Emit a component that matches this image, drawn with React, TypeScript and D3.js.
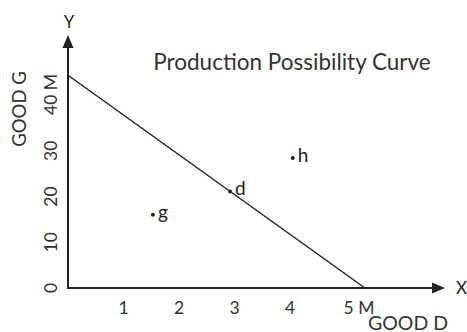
import React from "react";
import * as d3 from "d3";

const W = 467;
const H = 332;

const xTicks = [1, 2, 3, 4, 5];
const xTickLabels = ["1", "2", "3", "4", "5 M"];
const yTicks = [0, 10, 20, 30, 40];
const yTickLabels = ["0", "10", "20", "30", "40 M"];

const ppcX = [0, 5.35];
const ppcY = [46.5, 0];

const pointNames = ["g", "d", "h"];
const pointX = [1.53, 2.92, 4.05];
const pointY = [16, 21.1, 28.4];

const title = "Production Possibility Curve";
const xAxisName = "GOOD D";
const yAxisName = "GOOD G";

export default function App() {
  const x = d3.scaleLinear().domain([0, 5]).range([68, 345.5]);
  const y = d3.scaleLinear().domain([0, 40]).range([288, 105]);
  const line = d3
    .line<number>()
    .x((_, i) => x(ppcX[i]))
    .y((_, i) => y(ppcY[i]));
  const font = "Lato, 'Open Sans', sans-serif";
  const ink = "#222";
  const x0 = x(0);
  const y0 = y(0);
  const tickSize = 17.5;
  return (
    <svg
      width={W}
      height={H}
      style={{ position: "absolute", left: 0, top: 0, background: "#fff" }}
      fontFamily={font}
    >
      <rect width={W} height={H} fill="#fff" />
      {/* axes */}
      <line x1={x0} y1={y0} x2={x0} y2={47} stroke={ink} strokeWidth={2} />
      <path d={`M${x0 - 5.5},48 L${x0 + 5.5},48 L${x0},35 Z`} fill={ink} />
      <line x1={x0 - 1} y1={y0} x2={433} y2={y0} stroke={ink} strokeWidth={2} />
      <path d={`M432,${y0 - 5.5} L432,${y0 + 5.5} L445,${y0} Z`} fill={ink} />
      <text x={69} y={28} fontSize={17} textAnchor="middle" fill={ink}>Y</text>
      <text x={456} y={294} fontSize={17} fill={ink}>X</text>
      {/* ppc */}
      <path d={line(ppcX) || ""} fill="none" stroke={ink} strokeWidth={1.5} />
      {/* x tick labels */}
      {xTicks.map((t, i) =>
        xTickLabels[i].length > 1 ? (
          <text key={t} x={x(t) - 2} y={314} fontSize={tickSize} fill="#333">
            {xTickLabels[i]}
          </text>
        ) : (
          <text key={t} x={x(t)} y={314} fontSize={tickSize} textAnchor="middle" fill="#333">
            {xTickLabels[i]}
          </text>
        )
      )}
      {/* y tick labels */}
      {yTicks.map((t, i) =>
        yTickLabels[i].length > 2 ? (
          <text
            key={t}
            transform={`translate(57,${y(t) + 10}) rotate(-90)`}
            fontSize={tickSize}
            fill="#333"
          >
            {yTickLabels[i]}
          </text>
        ) : (
          <text
            key={t}
            transform={`translate(57,${y(t)}) rotate(-90)`}
            fontSize={tickSize}
            textAnchor="middle"
            fill="#333"
          >
            {yTickLabels[i]}
          </text>
        )
      )}
      {/* axis names */}
      <text x={368} y={330} fontSize={19.5} fill="#333">{xAxisName}</text>
      <text
        transform={`translate(26,109) rotate(-90)`}
        fontSize={18.5}
        textAnchor="middle"
        fill="#333"
      >
        {yAxisName}
      </text>
      {/* title */}
      <text x={292} y={70} fontSize={22.5} textAnchor="middle" fill="#333">{title}</text>
      {/* points */}
      {pointNames.map((n, i) => (
        <g key={n}>
          <circle cx={x(pointX[i])} cy={y(pointY[i])} r={2} fill={ink} />
          <text x={x(pointX[i]) + 5} y={y(pointY[i]) + 4} fontSize={19} fill={ink}>
            {n}
          </text>
        </g>
      ))}
    </svg>
  );
}
